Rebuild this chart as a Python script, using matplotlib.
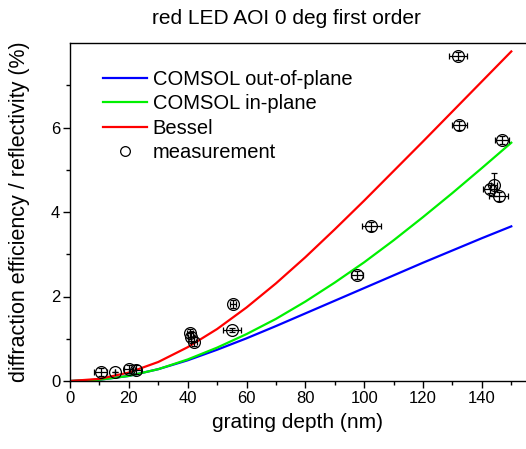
import matplotlib
matplotlib.use("Agg")
import matplotlib.pyplot as plt
from matplotlib.lines import Line2D
from matplotlib.ticker import MultipleLocator

plt.rcParams['font.family'] = ['Liberation Sans', 'DejaVu Sans']

# simulated curves, every 10 nm
depth = [0, 10, 20, 30, 40, 50, 60, 70, 80, 90, 100, 110, 120, 130, 140, 150]
comsol_out = [0, 0.03, 0.12, 0.28, 0.49, 0.74, 1.01, 1.30, 1.60, 1.90, 2.20, 2.50, 2.80, 3.09, 3.38, 3.66]
comsol_in = [0, 0.03, 0.12, 0.28, 0.51, 0.79, 1.11, 1.47, 1.88, 2.33, 2.81, 3.33, 3.88, 4.45, 5.04, 5.64]
bessel = [0, 0.05, 0.20, 0.45, 0.80, 1.23, 1.74, 2.31, 2.93, 3.59, 4.27, 4.97, 5.67, 6.38, 7.09, 7.80]

# measurements
meas_x = [10.4, 15.3, 20.0, 22.6, 40.8, 41.2, 42.2, 55.3, 55.0, 97.5, 102.4, 131.9, 132.3, 146.8, 144.2, 142.9, 145.7]
meas_y = [0.21, 0.22, 0.29, 0.27, 1.13, 1.05, 0.93, 1.82, 1.21, 2.51, 3.66, 7.69, 6.05, 5.70, 4.65, 4.55, 4.37]
meas_xerr = [2.3, 0, 1.5, 1.5, 1.0, 1.0, 1.0, 1.0, 3.0, 2.0, 3.2, 3.2, 2.5, 2.5, 1.0, 2.4, 3.2]
meas_yerr = [0.1, 0, 0.1, 0.1, 0.1, 0.1, 0.1, 0.1, 0.05, 0.1, 0.1, 0.1, 0.1, 0.1, 0.28, 0.1, 0.1]

fig = plt.figure(figsize=(5.26, 4.49), dpi=100)
ax = fig.add_axes([70 / 526, 68 / 449, 456 / 526, 338 / 449])

ax.plot(depth, comsol_out, color='#0000ff', lw=1.6, label='COMSOL out-of-plane')
ax.plot(depth, comsol_in, color='#00f000', lw=1.6, label='COMSOL in-plane')
ax.plot(depth, bessel, color='#ff0000', lw=1.6, label='Bessel')
ax.errorbar(meas_x, meas_y, xerr=meas_xerr, yerr=meas_yerr, fmt='o', mfc='none', mec='black',
            mew=0.9, ms=8.5, ecolor='black', elinewidth=0.9, capsize=2.5, capthick=0.9)

ax.set_xlim(0, 155)
ax.set_ylim(0, 8)
ax.xaxis.set_major_locator(MultipleLocator(20))
ax.xaxis.set_minor_locator(MultipleLocator(10))
ax.set_yticks([0, 2, 4, 6])
ax.set_yticks([1, 3, 5, 7], minor=True)
ax.tick_params(which='major', direction='out', length=5, width=1, labelsize=12, pad=2)
ax.tick_params(which='minor', direction='out', length=3, width=1)
ax.spines['right'].set_visible(False)
for s in ['left', 'bottom', 'top']:
    ax.spines[s].set_linewidth(1)

ax.set_xlabel('grating depth (nm)', fontsize=15, labelpad=5)
ax.set_ylabel('diffraction efficiency / reflectivity (%)', fontsize=15.5, labelpad=15)
ax.set_title('red LED AOI 0 deg first order', fontsize=15, pad=14, x=0.474)

handles, labels = ax.get_legend_handles_labels()
handles.append(Line2D([], [], ls='none', marker='o', mfc='none', mec='black', mew=0.9, ms=7))
labels.append('measurement')
ax.legend(handles, labels, loc='upper left', bbox_to_anchor=(0.033, 0.975), frameon=False,
          fontsize=14.5, handlelength=2.2, handletextpad=0.25, labelspacing=0.28)

fig.savefig('out.png', dpi=100)
